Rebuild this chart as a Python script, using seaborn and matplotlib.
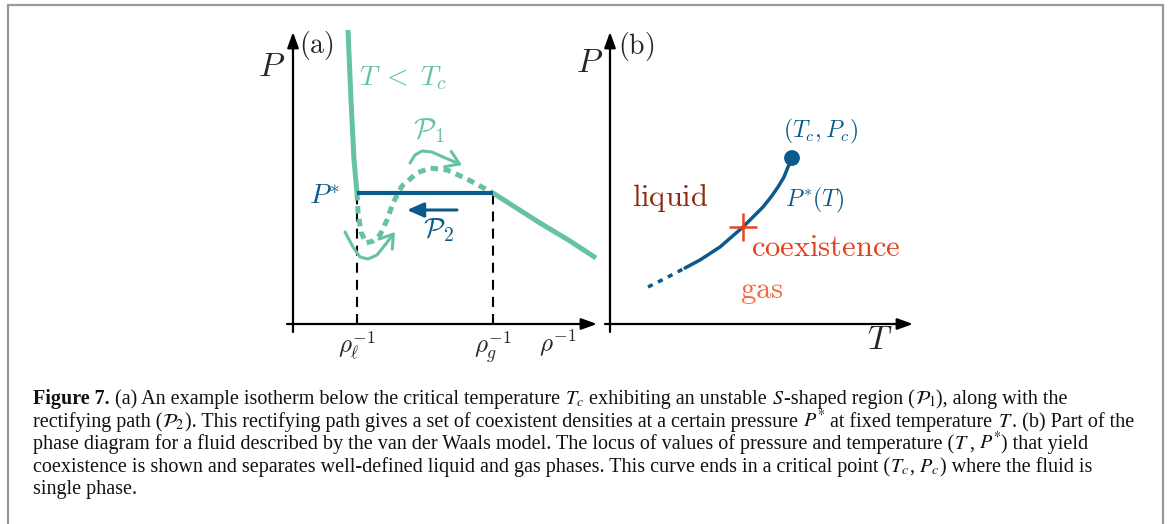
import re
import matplotlib
matplotlib.use("Agg")
import matplotlib.pyplot as plt
import seaborn as sns
from matplotlib.patches import Rectangle

# ---------------- data (schematic units) ----------------
# panel (a): isotherm P(rho^-1) below T_c
liq_x = [0.55, 0.58, 0.61, 0.64]
liq_y = [2.94, 2.24, 1.64, 1.31]
unstable_x = [0.64, 0.65, 0.68, 0.73, 0.80, 0.87, 0.94, 1.00, 1.09, 1.24, 1.37, 1.54, 1.74, 2.00]
unstable_y = [1.31, 1.12, 0.92, 0.81, 0.83, 0.89, 1.04, 1.21, 1.38, 1.51, 1.56, 1.54, 1.45, 1.31]
gas_x = [2.00, 2.47, 2.77, 3.03]
gas_y = [1.31, 1.01, 0.83, 0.66]
rho_l, rho_g, p_star = 0.64, 2.00, 1.31
path1_x = [1.17, 1.22, 1.29, 1.39, 1.50, 1.69]
path1_y = [1.61, 1.69, 1.73, 1.72, 1.67, 1.59]
path_low_x = [0.52, 0.60, 0.67, 0.75, 0.84, 0.92, 1.02]
path_low_y = [0.92, 0.77, 0.67, 0.65, 0.69, 0.79, 0.92]
path2_x = [1.64, 1.14]
path2_y = [1.14, 1.14]
tick_labels_a = [r"$\rho_\ell^{-1}$", r"$\rho_g^{-1}$"]

# panel (b): coexistence curve P*(T)
coex_dot_x = [0.38, 0.56, 0.75]
coex_dot_y = [0.37, 0.46, 0.56]
coex_x = [0.75, 0.90, 1.10, 1.33, 1.43, 1.53, 1.61, 1.68, 1.74, 1.78, 1.82]
coex_y = [0.56, 0.64, 0.77, 0.97, 1.07, 1.17, 1.27, 1.37, 1.47, 1.57, 1.66]
crit_x, crit_y = [1.82], [1.66]
cross_x, cross_y = [1.33], [0.97]

caption_bold = "Figure 7."
caption_lines = [
    r" (a) An example isotherm below the critical temperature $T_c$ exhibiting an unstable $S$-shaped region ($\mathcal{P}_1$), along with the",
    r"rectifying path ($\mathcal{P}_2$). This rectifying path gives a set of coexistent densities at a certain pressure $P^{*}$ at fixed temperature $T$. (b) Part of the",
    r"phase diagram for a fluid described by the van der Waals model. The locus of values of pressure and temperature ($T$, $P^{*}$) that yield",
    r"coexistence is shown and separates well-defined liquid and gas phases. This curve ends in a critical point ($T_c$, $P_c$) where the fluid is",
    r"single phase.",
]

# ---------------- style ----------------
sns.set_theme(style="white")
plt.rcParams["font.family"] = ["DejaVu Serif"]
GREEN = "#66c2a5"
BLUE = "#0b5a8c"
BROWN = "#8c2a12"
COEX = "#e2421b"
GAS = "#f26a45"
CROSS = "#e8441e"

W, H = 1171, 524
fig = plt.figure(figsize=(W / 100, H / 100), dpi=100)
fig.patch.set_facecolor("white")


def px_axes(left, top, right, bottom):
    ax = fig.add_axes([left / W, 1 - bottom / H, (right - left) / W, (bottom - top) / H])
    ax.set_axis_off()
    ax.patch.set_alpha(0)
    return ax


def axis_arrow(ax, start, end):
    ax.annotate("", xy=end, xytext=start,
                arrowprops=dict(arrowstyle="-|>,head_length=0.47,head_width=0.17",
                                lw=1.6, color="black", mutation_scale=20,
                                shrinkA=0, shrinkB=0))


CM = dict(math_fontfamily="cm")

# ---------------- panel (a) ----------------
ax = px_axes(250, 15, 620, 365)
ax.set_xlim(-0.43, 3.27)
ax.set_ylim(-0.41, 3.09)
axis_arrow(ax, (0, -0.08), (0, 2.92))
axis_arrow(ax, (-0.06, 0), (3.04, 0))

for xv in (rho_l, rho_g):
    ax.plot([xv, xv], [0, p_star], color="black", lw=1.5, linestyle=(0, (4.8, 3.4)))
    ax.plot([xv, xv], [0, 0.07], color="black", lw=1.5)

sns.lineplot(x=liq_x, y=liq_y, sort=False, estimator=None, ax=ax, color=GREEN, lw=3.6,
             solid_capstyle="butt")
sns.lineplot(x=unstable_x, y=unstable_y, sort=False, estimator=None, ax=ax, color=GREEN,
             lw=3.6, linestyle=(0, (1.5, 1.1)), dash_capstyle="butt")
sns.lineplot(x=gas_x, y=gas_y, sort=False, estimator=None, ax=ax, color=GREEN, lw=3.6,
             solid_capstyle="butt")
sns.lineplot(x=[rho_l, rho_g], y=[p_star, p_star], sort=False, estimator=None, ax=ax,
             color=BLUE, lw=3.0, solid_capstyle="butt")

for px_, py_ in ((path1_x, path1_y), (path_low_x, path_low_y)):
    sns.lineplot(x=px_[:-1], y=py_[:-1], sort=False, estimator=None, ax=ax, color=GREEN, lw=2.2)
    ax.annotate("", xy=(px_[-1], py_[-1]), xytext=(px_[-2], py_[-2]),
                arrowprops=dict(arrowstyle="->,head_length=0.45,head_width=0.3", lw=2.2,
                                color=GREEN, mutation_scale=20, shrinkA=0, shrinkB=0))
ax.annotate("", xy=(path2_x[1], path2_y[1]), xytext=(path2_x[0], path2_y[0]),
            arrowprops=dict(arrowstyle="-|>,head_length=0.5,head_width=0.22", lw=2.2,
                            color=BLUE, mutation_scale=20, shrinkA=0, shrinkB=0))

ax.text(-0.21, 2.57, r"$P$", fontsize=24, ha="center", va="center", **CM)
ax.text(0.23, 2.79, r"$\mathrm{(a)}$", fontsize=20, ha="center", va="center", **CM)
ax.text(1.10, 2.46, r"$T\;<\;T_c$", fontsize=20, ha="center", va="center", color=GREEN, **CM)
ax.text(1.36, 1.93, r"$\mathcal{P}_1$", fontsize=21, ha="center", va="center", color=GREEN, **CM)
ax.text(0.47, 1.28, r"$P^{*}$", fontsize=20, ha="right", va="center", color=BLUE, **CM)
ax.text(1.46, 0.94, r"$\mathcal{P}_2$", fontsize=20, ha="center", va="center", color=BLUE, **CM)
for xv, lab in zip((rho_l, rho_g), tick_labels_a):
    ax.text(xv, -0.05, lab, fontsize=18, ha="center", va="top", **CM)
ax.text(2.65, -0.05, r"$\rho^{-1}$", fontsize=18, ha="center", va="top", **CM)

# ---------------- panel (b) ----------------
bx = px_axes(560, 15, 930, 365)
bx.set_xlim(-0.5, 3.2)
bx.set_ylim(-0.41, 3.09)
axis_arrow(bx, (0, -0.08), (0, 2.92))
axis_arrow(bx, (-0.05, 0), (3.03, 0))

sns.lineplot(x=coex_dot_x, y=coex_dot_y, sort=False, estimator=None, ax=bx, color=BLUE,
             lw=2.5, linestyle=(0, (1.5, 1.7)), dash_capstyle="butt")
sns.lineplot(x=coex_x, y=coex_y, sort=False, estimator=None, ax=bx, color=BLUE, lw=2.5)
sns.scatterplot(x=crit_x, y=crit_y, ax=bx, color=BLUE, s=130, edgecolor="none", zorder=5)
sns.scatterplot(x=cross_x, y=cross_y, ax=bx, color=CROSS, marker="+", s=400, linewidth=1.8,
                zorder=6)

bx.text(-0.20, 2.61, r"$P$", fontsize=24, ha="center", va="center", **CM)
bx.text(0.26, 2.78, r"$\mathrm{(b)}$", fontsize=20, ha="center", va="center", **CM)
bx.text(2.10, 1.93, r"$(T_c,P_c)$", fontsize=17, ha="center", va="center", color=BLUE, **CM)
bx.text(2.05, 1.24, r"$P^{*}(T)$", fontsize=17, ha="center", va="center", color=BLUE, **CM)
bx.text(0.60, 1.26, r"$\mathrm{liquid}$", fontsize=22, ha="center", va="center", color=BROWN, **CM)
bx.text(2.16, 0.77, r"$\mathrm{coexistence}$", fontsize=22, ha="center", va="center", color=COEX, **CM)
bx.text(1.52, 0.34, r"$\mathrm{gas}$", fontsize=22, ha="center", va="center", color=GAS, **CM)
bx.text(2.70, -0.16, r"$T$", fontsize=24, ha="center", va="center", **CM)

# ---------------- border and caption ----------------
fig.add_artist(Rectangle((8 / W, -0.05), (1163 - 8) / W, 1.05 - 5 / H,
                         transform=fig.transFigure, fill=False, edgecolor="#9a9a9a", lw=1.6))

renderer = fig.canvas.get_renderer()
cap = dict(family="Liberation Serif", math_fontfamily="stix", va="baseline", ha="left",
           color="#111111")


def space_width(fs, **kw):
    a = fig.text(0, 0, "a a", fontsize=fs, **cap, **kw)
    b = fig.text(0, 0, "aa", fontsize=fs, **cap, **kw)
    w = a.get_window_extent(renderer).width - b.get_window_extent(renderer).width
    a.remove()
    b.remove()
    return w


def draw_segments(x, yb, s, fs, keep=True, **kw):
    """Draw a caption line piece by piece (plain text and math runs) from pixel x."""
    sp = space_width(fs, **kw)
    texts = []
    for part in re.split(r"(\$[^$]*\$)", s):
        if not part:
            continue
        core = part.strip(" ")
        x += (len(part) - len(part.lstrip(" "))) * sp
        if core:
            t = fig.text(x / W, 1 - yb / H, core, fontsize=fs, **cap, **kw)
            x += t.get_window_extent(renderer).width
            texts.append(t)
        if core or part.strip(" ") == "":
            x += (len(part) - len(part.rstrip(" "))) * sp if core else 0
    if not keep:
        for t in texts:
            t.remove()
    return x


x0 = 33
w_probe = draw_segments(x0, 0, caption_lines[1], 12, keep=False) - x0
fs = 12 * (1133 - 33) / w_probe

baselines = [404, 427, 449, 472, 494]
xb = draw_segments(x0, baselines[0], caption_bold, fs, weight="bold")
draw_segments(xb, baselines[0], caption_lines[0], fs)
for line, yb in zip(caption_lines[1:], baselines[1:]):
    draw_segments(x0, yb, line, fs)

fig.savefig("out.png", dpi=100, facecolor="white")
